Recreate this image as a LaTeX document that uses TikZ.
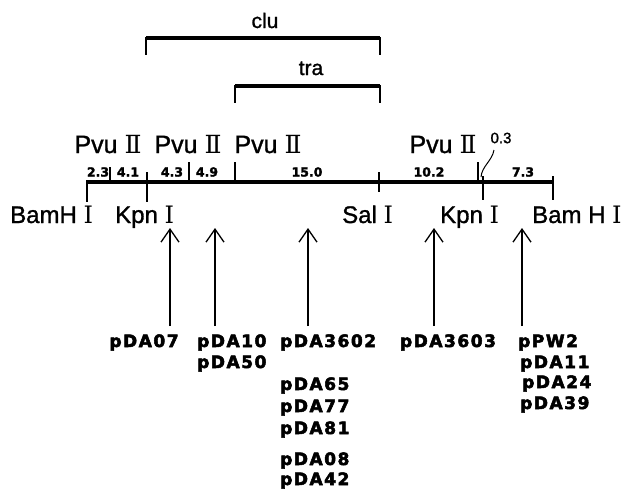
\documentclass[tikz,border=0pt]{standalone}
\usepackage{fontspec}
\setmainfont{Liberation Sans}
\newfontfamily\romfont{DejaVu Serif}
\newfontfamily\labfont[LetterSpace=9,FakeBold=3]{DejaVu Sans Bold}
\newfontfamily\numfont[FakeBold=2]{DejaVu Sans Bold}
\newfontfamily\regfont[FakeBold=1.2]{Liberation Sans}
\usetikzlibrary{arrows.meta}
\newcommand\RomI{{\romfont Ⅰ}}
\newcommand\RomII{{\romfont Ⅱ}}
\tikzset{
  mapline/.style={line width=4pt},
  tickline/.style={line width=1.3pt},
  barline/.style={line width=4pt},
  legline/.style={line width=1.2pt},
  sitelab/.style={inner sep=0pt, anchor=base west, font=\fontsize{24}{24}\regfont},
  pvulab/.style={inner sep=0pt, anchor=base, font=\fontsize{25}{25}\regfont},
  seglab/.style={inner sep=0pt, anchor=center, font=\fontsize{12.5}{12.5}\numfont},
  genelab/.style={inner sep=0pt, anchor=base, font=\fontsize{21}{21}\regfont},
  plas/.style={inner sep=0pt, anchor=base west, font=\fontsize{17}{17}\labfont},
  plasc/.style={inner sep=0pt, anchor=base, font=\fontsize{17}{17}\labfont},
  uparrow/.style={line width=1.3pt, -{Straight Barb[length=13pt,width=18pt,line width=1.3pt]}}
}
\begin{document}
\begin{tikzpicture}[x=1pt,y=-1pt]
\useasboundingbox (0,0) rectangle (631,488);
% gene bars
\draw[barline] (146,38) -- (380,38);
\draw[legline] (146,37) -- (146,55);
\draw[legline] (380,37) -- (380,55);
\node[genelab] (clu) at (265,28) {clu};
\draw[barline] (235,86) -- (380,86);
\draw[legline] (235,85) -- (235,103);
\draw[legline] (380,85) -- (380,103);
\node[genelab] (tra) at (311,75) {tra};
% main map
\draw[mapline] (87,182) -- (553,182);
\draw[tickline] (87,180) -- (87,202);
\draw[tickline] (110,167) -- (110,182);
\draw[tickline] (147,172) -- (147,202);
\draw[tickline] (189,162) -- (189,182);
\draw[tickline] (235,162) -- (235,182);
\draw[tickline] (379,172) -- (379,192);
\draw[tickline] (478,162) -- (478,182);
\draw[tickline] (483,176) -- (483,200);
\draw[tickline] (553,176) -- (553,200);
% segment lengths
\node[seglab] (s1) at (98,172) {2.3};
\node[seglab] (s2) at (128,172) {4.1};
\node[seglab] (s3) at (172,172) {4.3};
\node[seglab] (s4) at (207,172) {4.9};
\node[seglab] (s5) at (307,172) {15.0};
\node[seglab] (s6) at (429,172) {10.2};
\node[seglab] (s7) at (523,172) {7.3};
% Pvu II labels
\node[pvulab] (p1) at (108,153) {Pvu \RomII};
\node[pvulab] (p2) at (188,153) {Pvu \RomII};
\node[pvulab] (p3) at (268,153) {Pvu \RomII};
\node[pvulab] (p4) at (443,153) {Pvu \RomII};
\node[inner sep=0pt, font=\fontsize{15}{15}\regfont] (small) at (501,138) {0.3};
\coordinate (cs) at (481,177);
\coordinate (ce) at (494,150);
\draw[line width=1pt] (cs) .. controls (482,166) and (492,161) .. (ce);
% site labels
\node[sitelab] (b1) at (10,223) {BamH \RomI};
\node[sitelab] (k1) at (115,223) {Kpn \RomI};
\node[sitelab] (sa) at (342,223) {Sal \RomI};
\node[sitelab] (k2) at (440,223) {Kpn \RomI};
\node[sitelab] (b2) at (532,223) {Bam H \RomI};
% arrows
\foreach \n/\x in {1/170,2/215,3/308,4/434,5/522}{
  \coordinate (t\n) at (\x,326);
  \coordinate (h\n) at (\x,228);
  \draw[uparrow] (t\n) -- (h\n);
}
% plasmid labels
\node[plasc] (l1) at (144,347) {pDA07};
\node[plas] (l2) at (197,347) {pDA10};
\node[plas] (l3) at (197,368) {pDA50};
\node[plas] (l4) at (280,347) {pDA3602};
\node[plas] (l5) at (280,390) {pDA65};
\node[plas] (l6) at (280,412) {pDA77};
\node[plas] (l7) at (280,434) {pDA81};
\node[plas] (l8) at (280,465) {pDA08};
\node[plas] (l9) at (280,485) {pDA42};
\node[plasc] (l10) at (448,347) {pDA3603};
\node[plas] (l11) at (518,347) {pPW2};
\node[plas] (l12) at (520,368) {pDA11};
\node[plas] (l13) at (522,388) {pDA24};
\node[plas] (l14) at (520,409) {pDA39};
\end{tikzpicture}
\end{document}
